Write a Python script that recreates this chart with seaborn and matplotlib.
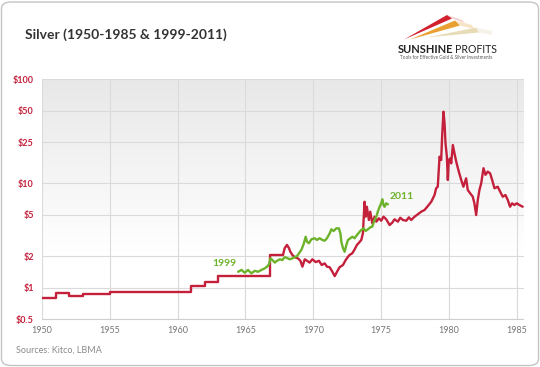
import matplotlib
matplotlib.use("Agg")
import matplotlib.pyplot as plt
import numpy as np
import pandas as pd
import seaborn as sns
from matplotlib.patches import FancyBboxPatch, Polygon

# ---------------- data ----------------
# fixed-price era (step function)
step_years = [1950, 1951, 1952, 1953, 1954, 1955, 1956, 1957, 1958, 1959, 1960,
              1961, 1962, 1963, 1966.78, 1967.77]
step_prices = [0.80, 0.89, 0.83, 0.86, 0.86, 0.91, 0.91, 0.90, 0.90, 0.91, 0.91,
               1.04, 1.13, 1.29, 2.06, 2.06]

# market era 1967-1985
market_years = [1967.77, 1967.89, 1968.06, 1968.21, 1968.31, 1968.46, 1968.63, 1968.87, 1969.05, 1969.20,
                1969.37, 1969.54, 1969.73, 1969.93, 1970.18, 1970.42, 1970.62, 1970.84, 1971.01, 1971.21,
                1971.41, 1971.58, 1971.75, 1971.94, 1972.19, 1972.39, 1972.56, 1972.68, 1972.88, 1973.05,
                1973.22, 1973.37, 1973.54, 1973.66, 1973.78, 1973.86, 1973.95, 1974.10, 1974.20, 1974.35,
                1974.52, 1974.65, 1974.84, 1975.01, 1975.18, 1975.38, 1975.63, 1975.82, 1975.99, 1976.24,
                1976.41, 1976.61, 1976.86, 1977.05, 1977.22, 1977.47, 1977.71, 1977.96, 1978.20, 1978.45,
                1978.70, 1978.94, 1979.06, 1979.18, 1979.31, 1979.43, 1979.51, 1979.60, 1979.68, 1979.75,
                1979.85, 1979.92, 1979.99, 1980.10, 1980.17, 1980.29, 1980.41, 1980.54, 1980.73, 1980.91,
                1981.07, 1981.27, 1981.39, 1981.57, 1981.76, 1981.88, 1982.01, 1982.13, 1982.25, 1982.38,
                1982.55, 1982.70, 1982.86, 1983.04, 1983.19, 1983.36, 1983.60, 1983.78, 1983.97, 1984.17,
                1984.34, 1984.51, 1984.66, 1984.83, 1985.00, 1985.20, 1985.44]
market_prices = [2.06, 2.39, 2.57, 2.39, 2.21, 2.06, 1.96, 1.91, 1.81, 1.59,
                 1.87, 1.81, 1.74, 1.87, 1.76, 1.81, 1.65, 1.71, 1.59, 1.57,
                 1.42, 1.29, 1.42, 1.57, 1.65, 1.84, 1.98, 2.06, 2.14, 2.33,
                 2.57, 2.70, 2.87, 3.32, 6.68, 4.80, 5.98, 4.46, 5.36, 4.15,
                 4.80, 4.30, 4.63, 4.39, 4.80, 4.53, 3.99, 4.20, 4.53, 4.30,
                 4.69, 4.46, 4.39, 4.73, 4.46, 4.80, 5.06, 5.36, 5.56, 6.08,
                 6.68, 7.75, 8.99, 9.31, 18.1, 16.8, 30.3, 48.9, 37.8, 24.3,
                 18.1, 10.8, 16.8, 17.4, 15.6, 23.4, 19.5, 16.2, 13.0, 10.8,
                 9.31, 11.2, 8.65, 8.04, 7.46, 6.45, 4.98, 6.94, 8.65, 10.0,
                 14.0, 12.1, 13.0, 12.5, 10.8, 8.99, 9.31, 8.33, 7.46, 7.75,
                 6.94, 5.98, 6.45, 6.21, 6.45, 6.21, 5.98]

# 1999-2011 series, overlaid on the 1964-1975 stretch
green_years = [1964.46, 1964.71, 1964.95, 1965.19, 1965.44, 1965.68, 1965.93, 1966.18, 1966.42, 1966.59,
               1966.74, 1966.84, 1966.99, 1967.16, 1967.33, 1967.53, 1967.72, 1967.89, 1968.06, 1968.26,
               1968.46, 1968.63, 1968.80, 1968.95, 1969.12, 1969.29, 1969.44, 1969.54, 1969.68, 1969.86,
               1970.10, 1970.27, 1970.47, 1970.67, 1970.84, 1971.01, 1971.21, 1971.33, 1971.50, 1971.70,
               1971.89, 1972.00, 1972.07, 1972.19, 1972.31, 1972.44, 1972.56, 1972.73, 1972.88, 1973.05,
               1973.22, 1973.42, 1973.54, 1973.71, 1973.86, 1974.03, 1974.20, 1974.35, 1974.52, 1974.65,
               1974.76, 1974.89, 1975.01, 1975.09, 1975.18, 1975.26, 1975.38, 1975.50]
green_prices = [1.42, 1.48, 1.39, 1.48, 1.37, 1.45, 1.42, 1.48, 1.53, 1.59,
                1.68, 1.91, 1.84, 1.74, 1.81, 1.87, 1.84, 1.96, 1.93, 1.87,
                1.91, 1.96, 2.01, 2.14, 2.30, 2.62, 3.08, 2.76, 2.67, 2.91,
                2.98, 2.87, 2.98, 2.87, 2.82, 2.98, 3.32, 3.63, 3.50, 3.71,
                3.71, 3.32, 2.76, 2.39, 2.21, 2.57, 2.87, 2.98, 3.08, 2.98,
                3.20, 3.44, 3.58, 3.71, 3.50, 3.63, 3.79, 3.85, 4.46, 4.80,
                5.36, 5.98, 6.45, 7.05, 6.21, 5.98, 6.45, 6.31]

y_ticks = [0.5, 1, 2, 5, 10, 25, 50, 100]
y_tick_labels = ["$0.5", "$1", "$2", "$5", "$10", "$25", "$50", "$100"]
x_ticks = [1950, 1955, 1960, 1965, 1970, 1975, 1980, 1985]
x_tick_labels = ["1950", "1955", "1960", "1965", "1970", "1975", "1980", "1985"]

RED = "#c4203b"
GREEN = "#6db22b"
FONT = ["Lato", "DejaVu Sans"]

sns.set_theme(style="white")
plt.rcParams["font.family"] = FONT

W, H = 540, 367
fig = plt.figure(figsize=(W / 100, H / 100), dpi=100)
fig.patch.set_facecolor("white")

def fx(x):
    return x / W

def fy(y):
    return 1 - y / H

# rounded outer frame
frame = FancyBboxPatch((fx(1.5), fy(365.5)), fx(537), 363.5 / H,
                       boxstyle="round,pad=0,rounding_size=0.018",
                       transform=fig.transFigure, facecolor="none",
                       edgecolor="#c4c4c4", linewidth=1.0, zorder=-10)
fig.patches.append(frame)

left, right, top, bottom = 42, 523.5, 79.3, 319
ax = fig.add_axes([fx(left), fy(bottom), (right - left) / W, (bottom - top) / H])
ax.set_facecolor("none")
ax.set_zorder(2)

# background gradient inside plot area
grad = np.linspace(0, 1, 256).reshape(-1, 1)
shade = np.clip(grad / 0.72, 0, 1)
c_top = np.array([0.91, 0.91, 0.91])
c_bot = np.array([1.0, 1.0, 1.0])
img = c_top[None, None, :] * (1 - shade[..., None]) + c_bot[None, None, :] * shade[..., None]
ax.imshow(img, extent=[0, 1, 0, 1], transform=ax.transAxes, aspect="auto",
          origin="upper", zorder=0)

ax.set_yscale("log")

sns.lineplot(x=step_years, y=step_prices, ax=ax, color=RED, linewidth=1.7,
             drawstyle="steps-post", estimator=None, sort=False, zorder=3)
sns.lineplot(x=market_years, y=market_prices, ax=ax, color=RED, linewidth=1.7,
             estimator=None, sort=False, zorder=3)
sns.lineplot(x=green_years, y=green_prices, ax=ax, color=GREEN, linewidth=1.7,
             estimator=None, sort=False, zorder=4)

ax.set_xlim(1950, 1985.5)
ax.set_ylim(0.5, 100)
ax.set_yticks(y_ticks)
ax.set_yticklabels(y_tick_labels)
ax.yaxis.set_minor_locator(matplotlib.ticker.NullLocator())
ax.set_xticks(x_ticks)
ax.set_xticklabels(x_tick_labels)
ax.set_xlabel("")
ax.set_ylabel("")

ax.grid(True, which="major", color="#dadada", linewidth=0.8, zorder=1)
ax.set_axisbelow(True)
for s in ["top", "right", "left"]:
    ax.spines[s].set_visible(False)
ax.spines["bottom"].set_color("#d0d0d0")
ax.spines["bottom"].set_linewidth(0.8)

ax.tick_params(axis="both", which="both", length=0)
ax.tick_params(axis="y", pad=6, labelsize=6.5, labelcolor=RED)
ax.tick_params(axis="x", pad=5, labelsize=6.5, labelcolor="#777777")
for t in ax.get_yticklabels():
    t.set_fontweight("bold")

ax.text(1963.48, 1.70, "1999", color=GREEN, fontsize=7.5, fontweight="bold",
        ha="center", va="center", family=FONT)
ax.text(1976.49, 7.58, "2011", color=GREEN, fontsize=7.5, fontweight="bold",
        ha="center", va="center", family=FONT)

# title
fig.text(fx(25), fy(35), "Silver (1950-1985 & 1999-2011)", fontsize=10,
         fontweight="bold", color="#333333", ha="left", va="center", family=FONT)

# source note
fig.text(fx(16), fy(350), "Sources: Kitco, LBMA", fontsize=6.5, color="#8a8a8a",
         ha="left", va="center", family=FONT)

# logo swooshes
def poly(pts, color, alpha=1.0):
    p = Polygon([(fx(a), fy(b)) for a, b in pts], closed=True,
                transform=fig.transFigure, facecolor=color, edgecolor="none",
                alpha=alpha, zorder=5)
    fig.patches.append(p)

poly([(404, 39.5), (447, 15.0), (452, 18.5)], "#d2202f")
poly([(452, 18.5), (447, 15.0), (462, 20), (465, 23)], "#e8a0a0", 0.5)
poly([(410, 39.5), (455, 20.5), (460, 25.5)], "#e9a030")
poly([(460, 25.5), (455, 20.5), (472, 25), (474, 29)], "#f3d3a0", 0.6)
poly([(427, 37.5), (476, 27.5), (479, 32.5)], "#e8dcb8")
poly([(479, 32.5), (476, 27.5), (492, 31), (492, 35)], "#f0ead8", 0.6)

fig.text(fx(397.5), fy(49.5), "SUNSHINE", fontsize=8.0, fontweight="bold",
         color="#222222", ha="left", va="center", family=FONT)
fig.text(fx(455.5), fy(49.5), "PROFITS", fontsize=7.6, fontweight="normal",
         color="#222222", ha="left", va="center", family=FONT)
fig.text(fx(446.5), fy(57.7), "Tools for Effective Gold & Silver Investments",
         fontsize=3.3, color="#555555", ha="center", va="center", family=FONT)

fig.savefig("out.png", dpi=100, facecolor="white")
